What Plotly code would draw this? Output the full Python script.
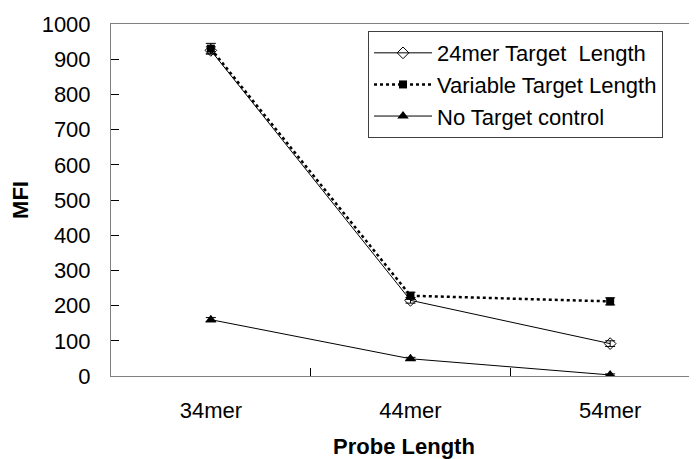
import plotly.graph_objects as go

categories = ["34mer", "44mer", "54mer"]
target24 = [925, 215, 92]
target24_err = [10, 8, 8]
variable = [930, 228, 212]
variable_err = [15, 10, 10]
no_target = [160, 49, 3]
no_target_err = [6, 4, 3]

fig = go.Figure()
fig.add_trace(go.Scatter(
    x=categories, y=target24, name="24mer Target  Length", mode="lines+markers",
    legendgroup="a",
    line=dict(color="black", width=1),
    marker=dict(symbol="diamond-open", size=9, color="black", line=dict(width=1)),
    error_y=dict(type="data", array=target24_err, color="black", thickness=1, width=5),
))
fig.add_trace(go.Scatter(
    x=categories, y=variable, name="Variable Target Length", mode="lines+markers",
    legendgroup="b",
    line=dict(color="black", width=2.5, dash="dot"),
    marker=dict(symbol="square", size=8, color="black"),
    error_y=dict(type="data", array=variable_err, color="black", thickness=1, width=5),
))
fig.add_trace(go.Scatter(
    x=categories, y=no_target, name="No Target control", mode="lines+markers",
    legendgroup="c",
    line=dict(color="black", width=1),
    marker=dict(symbol="triangle-up", size=10, color="black"),
    error_y=dict(type="data", array=no_target_err, color="black", thickness=1, width=5),
))

# page body has an 8px default margin, so the figure is shrunk/offset to compensate
fig.update_layout(
    width=689, height=451,
    margin=dict(l=103, r=0, t=16, b=83),
    paper_bgcolor="white", plot_bgcolor="white",
    font=dict(family="Liberation Sans, Arial, sans-serif", size=22, color="black"),
    showlegend=True,
    legend=dict(x=0.4386, y=0.98, xanchor="left", yanchor="top",
                bordercolor="#404040", borderwidth=1, bgcolor="white",
                font=dict(size=22), tracegroupgap=0, itemwidth=58),
)
fig.update_xaxes(
    type="category", range=[-0.5, 2.435], automargin=False,
    showline=True, linecolor="#808080", linewidth=1, mirror=True,
    ticks="inside", tickson="boundaries", ticklen=8, tickcolor="black",
    showgrid=False, zeroline=False,
    ticklabelstandoff=15,
    title=dict(text="<b>Probe Length</b>", standoff=19, font=dict(size=22)),
)
fig.update_yaxes(
    range=[0, 1000], dtick=100, automargin=False,
    showline=True, linecolor="#808080", linewidth=1, mirror=False,
    ticks="inside", ticklen=8, tickcolor="black",
    showgrid=False, zeroline=False,
    ticklabelstandoff=15,
    title=dict(text="<b>MFI</b>", standoff=9, font=dict(size=22)),
)

fig.write_html("out.html")
